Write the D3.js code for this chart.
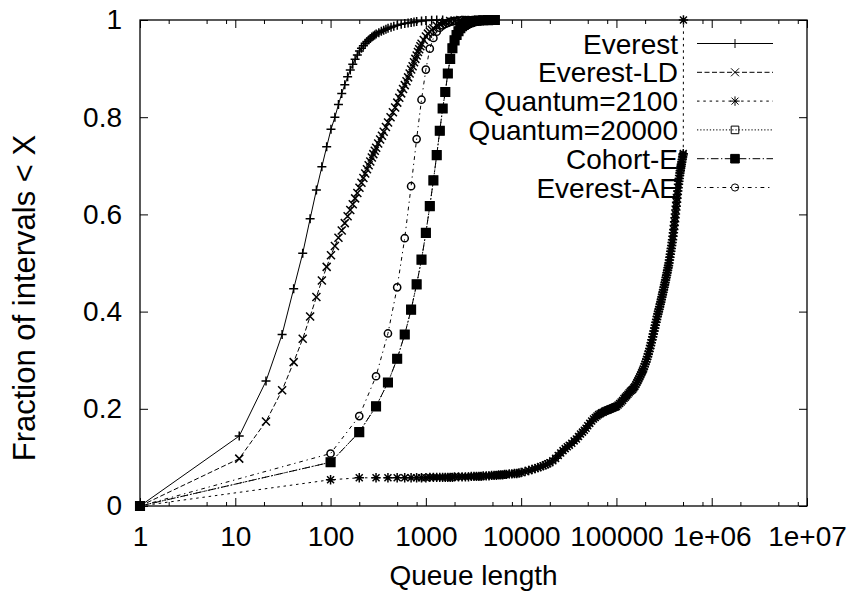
<!DOCTYPE html>
<html>
<head>
<meta charset="utf-8">
<script src="https://cdn.jsdelivr.net/npm/d3@7"></script>
<style>
  html, body { margin: 0; padding: 0; background: #fff; }
  svg { display: block; }
  text { font-family: "Liberation Sans", Arial, Helvetica, sans-serif; fill: #000; }
</style>
</head>
<body>
<svg id="chart" width="854" height="591"></svg>
<script>
// ---- data: [queue length, fraction of intervals < X] ----
const everest = [[1,0],[11,.144],[21,.257],[31,.353],[41,.447],[51,.52],[61,.591],[71,.65],[81,.698],[91,.739],[101,.775],[111,.80],[121,.826],[131,.849],[141,.867],[151,.883],[161,.897],[171,.909],[181,.919],[191,.928],[201,.936],[211,.942],[221,.947],[231,.952],[241,.956],[251,.959],[261,.962],[271,.965],[281,.967],[291,.969],[301,.971],[321,.974],[341,.977],[361,.979],[381,.981],[401,.983],[431,.985],[461,.987],[501,.989],[551,.991],[601,.993],[651,.994],[701,.995],[751,.996],[801,.997],[901,.998],[1001,.999],[1151,.9995],[1301,1],[1501,1]];

const everestLD = [[1,0],[11,.0975],[21,.174],[31,.238],[41,.296],[51,.344],[61,.39],[71,.43],[81,.464],[91,.492],[101,.516],[111,.535],[121,.552],[131,.567],[141,.582],[151,.596],[161,.609],[171,.621],[181,.633],[191,.644],[201,.655],[211,.665],[221,.675],[231,.684],[241,.693],[251,.701],[261,.709],[271,.717],[281,.724],[291,.731],[301,.737],[316,.746],[331,.754],[346,.762],[361,.770],[381,.780],[401,.789],[426,.800],[451,.810],[476,.820],[501,.830],[526,.840],[551,.849],[576,.858],[601,.866],[626,.874],[651,.882],[676,.890],[701,.898],[726,.905],[751,.913],[776,.920],[801,.927],[826,.934],[851,.940],[876,.946],[901,.951],[951,.959],[1001,.966],[1051,.972],[1101,.976],[1151,.980],[1201,.983],[1301,.988],[1401,.992],[1501,.994],[1601,.996],[1801,.998],[2001,.999],[2301,1],[2601,1],[3001,1]];

const quantum2100 = [[1,0],[100,.054],[200,.058],[300,.058],[400,.058],[500,.058],[600,.058],[700,.058],[800,.058],[900,.058],[1000,.058],[1100,.059],[1200,.059],[1300,.059],[1400,.059],[1500,.059],[1600,.059],[1700,.059],[1800,.059],[1900,.059],[2000,.060],[2200,.060],[2400,.060],[2600,.060],[2800,.060],[3000,.061],[3200,.061],[3400,.061],[3600,.061],[3800,.061],[4000,.062],[4300,.062],[4600,.062],[4900,.063],[5200,.063],[5500,.063],[5800,.064],[6100,.064],[6400,.064],[6700,.065],[7000,.065],[7500,.066],[8000,.066],[8500,.067],[9000,.067],[9500,.068],[10000,.069],[11000,.071],[12000,.073],[13000,.075],[14000,.077],[15000,.079],[16000,.081],[17000,.083],[18000,.085],[19000,.087],[20000,.089],[21500,.093],[23000,.098],[24500,.104],[26000,.109],[27500,.114],[29000,.118],[30500,.122],[32000,.125],[34000,.129],[36000,.134],[38000,.138],[40000,.143],[42000,.148],[44000,.152],[46000,.156],[48000,.160],[50000,.165],[52500,.170],[55000,.175],[57500,.179],[60000,.182],[62500,.185],[65000,.188],[67500,.190],[70000,.192],[72500,.193],[75000,.195],[77500,.196],[80000,.197],[82500,.198],[85000,.199],[87500,.200],[90000,.201],[92500,.202],[95000,.203],[97500,.204],[100000,.205],[104000,.208],[108000,.211],[112000,.214],[116000,.217],[120000,.221],[124000,.224],[128000,.227],[132000,.230],[136000,.233],[140000,.236],[144000,.238],[148000,.240],[152000,.243],[156000,.246],[160000,.250],[164000,.254],[168000,.258],[172000,.262],[176000,.266],[180000,.270],[184000,.274],[188000,.278],[192000,.282],[196000,.287],[200000,.292],[204000,.297],[208000,.302],[212000,.307],[216000,.313],[220000,.318],[224000,.324],[228000,.330],[232000,.336],[236000,.342],[240000,.348],[244000,.354],[248000,.360],[252000,.366],[256000,.372],[260000,.378],[264000,.384],[268000,.390],[272000,.395],[276000,.400],[280000,.405],[284000,.410],[288000,.415],[292000,.420],[296000,.425],[300000,.430],[304000,.435],[308000,.440],[312000,.445],[316000,.450],[320000,.455],[324000,.460],[328000,.465],[332000,.470],[336000,.475],[340000,.480],[344000,.485],[348000,.490],[352000,.495],[356000,.500],[360000,.506],[364000,.512],[368000,.518],[372000,.524],[376000,.530],[380000,.536],[384000,.542],[388000,.548],[392000,.555],[396000,.562],[400000,.569],[404000,.577],[408000,.585],[412000,.593],[416000,.601],[420000,.609],[424000,.617],[428000,.625],[432000,.633],[436000,.641],[440000,.648],[444000,.655],[448000,.662],[452000,.668],[456000,.674],[460000,.680],[464000,.685],[468000,.690],[472000,.695],[476000,.699],[480000,.703],[485000,.708],[490000,.713],[495000,.718],[500000,.722],[503000,.725],[505000,1]];

const quantum20000 = [[1,0],[100,.090],[200,.152],[300,.205],[400,.254],[500,.303],[600,.353],[700,.404],[800,.456],[900,.507],[1000,.562],[1100,.617],[1200,.670],[1300,.722],[1400,.772],[1500,.818],[1600,.852],[1700,.890],[1800,.920],[1900,.942],[2000,.958],[2100,.969],[2200,.977],[2300,.983],[2400,.987],[2500,.990],[2600,.992],[2700,.994],[2800,.995],[2900,.996],[3000,.997],[3200,.998],[3400,.9985],[3600,.999],[4000,.9995],[4500,.9998],[5000,1],[5300,1]];

const cohortE = [[1,0],[100,.090],[200,.152],[300,.205],[400,.254],[500,.303],[600,.353],[700,.404],[800,.456],[900,.507],[1000,.562],[1100,.617],[1200,.670],[1300,.722],[1400,.772],[1500,.818],[1600,.852],[1700,.890],[1800,.920],[1900,.942],[2000,.958],[2100,.969],[2200,.977],[2300,.983],[2400,.987],[2500,.990],[2600,.992],[2700,.994],[2800,.995],[2900,.996],[3000,.997],[3200,.998],[3400,.9985],[3600,.999],[4000,.9995],[4500,.9998],[5000,1],[5300,1]];

const everestAE = [[1,0],[100,.108],[200,.185],[300,.267],[400,.355],[500,.450],[600,.551],[700,.658],[800,.755],[900,.836],[1000,.898],[1100,.941],[1200,.963],[1300,.976],[1400,.984],[1500,.989],[1600,.992],[1700,.994],[1800,.996],[1900,.997],[2000,.998],[2200,.999],[2400,1],[2600,1]];

const seriesNames = ["Everest", "Everest-LD", "Quantum=2100", "Quantum=20000", "Cohort-E", "Everest-AE"];

const xTicks = [1, 10, 100, 1000, 10000, 100000, 1000000, 10000000];
const xTickLabels = ["1", "10", "100", "1000", "10000", "100000", "1e+06", "1e+07"];
const xMinorTicks = [2, 5, 8, 20, 50, 80, 200, 500, 800, 2000, 5000, 8000, 20000, 50000, 80000,
                     200000, 500000, 800000, 2000000, 5000000, 8000000];
const yTicks = [0, 0.2, 0.4, 0.6, 0.8, 1];
const yTickLabels = ["0", "0.2", "0.4", "0.6", "0.8", "1"];

// ---- layout ----
const svg = d3.select("#chart");
const plotL = 140, plotR = 807, plotT = 20, plotB = 506;

const x = d3.scaleLog().domain([1, 1e7]).range([plotL, plotR]);
const y = d3.scaleLinear().domain([0, 1]).range([plotB, plotT]);

// line dash patterns and marker shapes per series
const dashes = ["none", "5,2.5", "2.5,3.8", "1.3,1.9", "7.6,2.5,1.3,2.5", "3.8,3.8,1.3,3.8"];
const markers = [
  { d: "M-4.5,0H4.5M0,-4.5V4.5", fill: "none" },
  { d: "M-4,-4L4,4M-4,4L4,-4", fill: "none" },
  { d: "M-4.7,0H4.7M0,-4.7V4.7M-3.5,-3.5L3.5,3.5M-3.5,3.5L3.5,-3.5", fill: "none" },
  { d: "M-3.8,-3.8H3.8V3.8H-3.8Z", fill: "none" },
  { d: "M-4.3,-4.3H4.3V4.3H-4.3Z", fill: "#000" },
  { d: d3.symbol(d3.symbolCircle, Math.PI * 3.6 * 3.6)(), fill: "none" }
];
const markerStroke = 1.5;
const allSeries = [everest, everestLD, quantum2100, quantum20000, cohortE, everestAE];

svg.append("defs").append("clipPath").attr("id", "plotClip")
  .append("rect").attr("x", plotL).attr("y", plotT).attr("width", plotR - plotL).attr("height", plotB - plotT);

// ---- axes ----
const fontSize = 28;
const axB = svg.append("g").attr("transform", `translate(0,${plotB})`)
  .call(d3.axisBottom(x).tickValues(xTicks).tickSize(-8).tickPadding(20)
        .tickFormat((d, i) => xTickLabels[i]));
const axBm = svg.append("g").attr("transform", `translate(0,${plotB})`)
  .call(d3.axisBottom(x).tickValues(xMinorTicks).tickSize(-4).tickFormat(""));
const axT = svg.append("g").attr("transform", `translate(0,${plotT})`)
  .call(d3.axisTop(x).tickValues(xTicks).tickSize(-8).tickFormat(""));
const axTm = svg.append("g").attr("transform", `translate(0,${plotT})`)
  .call(d3.axisTop(x).tickValues(xMinorTicks).tickSize(-4).tickFormat(""));
const axL = svg.append("g").attr("transform", `translate(${plotL},0)`)
  .call(d3.axisLeft(y).tickValues(yTicks).tickSize(-8).tickPadding(18)
        .tickFormat((d, i) => yTickLabels[i]));
const axR = svg.append("g").attr("transform", `translate(${plotR},0)`)
  .call(d3.axisRight(y).tickValues(yTicks).tickSize(-8).tickFormat(""));

[axB, axBm, axT, axTm, axL, axR].forEach(g => {
  g.select(".domain").remove();
  g.selectAll(".tick line").attr("stroke", "#000").attr("stroke-width", 1);
  g.selectAll("text").attr("font-size", fontSize).attr("font-family", null).attr("fill", "#000");
});

// plot border
svg.append("rect").attr("x", plotL).attr("y", plotT)
  .attr("width", plotR - plotL).attr("height", plotB - plotT)
  .attr("fill", "none").attr("stroke", "#000").attr("stroke-width", 1.3);

// axis titles
svg.append("text").attr("x", (plotL + plotR) / 2).attr("y", 585)
  .attr("text-anchor", "middle").attr("font-size", fontSize).text("Queue length");
svg.append("text").attr("transform", "translate(35,298) rotate(-90)")
  .attr("text-anchor", "middle").attr("font-size", 31).text("Fraction of intervals < X");

// ---- key ----
const keyTextX = 678, keyLineX0 = 697, keyLineX1 = 773, keyY0 = 43.5, keyDy = 28.8;
const key = svg.append("g");
seriesNames.forEach((name, i) => {
  const ky = keyY0 + i * keyDy;
  key.append("text").attr("x", keyTextX).attr("y", ky + 10)
    .attr("text-anchor", "end").attr("font-size", fontSize).text(name);
});

// ---- series ----
const line = d3.line().x(d => x(d[0])).y(d => y(d[1]));
allSeries.forEach((data, i) => {
  const g = svg.append("g");
  const ky = keyY0 + i * keyDy;
  // key sample
  g.append("line").attr("x1", keyLineX0).attr("x2", keyLineX1).attr("y1", ky).attr("y2", ky)
    .attr("stroke", "#000").attr("stroke-width", 1).attr("stroke-dasharray", dashes[i]);
  g.append("path").attr("d", markers[i].d).attr("transform", `translate(${(keyLineX0 + keyLineX1) / 2},${ky})`)
    .attr("fill", markers[i].fill).attr("stroke", "#000").attr("stroke-width", 1);
  // curve
  g.append("path").datum(data).attr("d", line).attr("clip-path", "url(#plotClip)")
    .attr("fill", "none").attr("stroke", "#000").attr("stroke-width", 1)
    .attr("stroke-dasharray", dashes[i]);
  g.selectAll(".pt").data(data).join("path").attr("class", "pt")
    .attr("d", markers[i].d)
    .attr("transform", d => `translate(${x(d[0])},${y(d[1])})`)
    .attr("fill", markers[i].fill).attr("stroke", "#000").attr("stroke-width", markerStroke);
});
</script>
</body>
</html>
